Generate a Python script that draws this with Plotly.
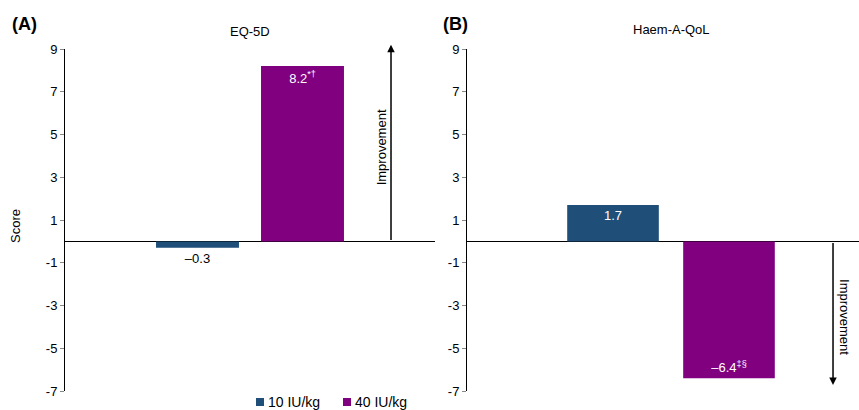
import plotly.graph_objects as go

# Doses compared in both panels
doses = ["10 IU/kg", "40 IU/kg"]
dose_colors = ["#1F4E79", "#800080"]

# Mean change from baseline scores
eq5d_scores = [-0.3, 8.2]
eq5d_marks = ["", "*†"]
haem_scores = [1.7, -6.4]
haem_marks = ["", "‡§"]

# Y-axis ticks shared by both panels
tick_vals = [-7, -5, -3, -1, 1, 3, 5, 7, 9]
tick_text = [str(v) for v in tick_vals]

panel_titles = ["EQ-5D", "Haem-A-QoL"]
panel_letters = ["(A)", "(B)"]

W, H = 859, 410
FONT = "Liberation Sans, Arial, sans-serif"


def label(v, mark):
    txt = f"{v:.1f}".replace("-", "–")
    if mark:
        txt += f"<sup>{mark}</sup>"
    return txt


fig = go.Figure()

panels = [
    dict(scores=eq5d_scores, marks=eq5d_marks, xa="x", ya="y"),
    dict(scores=haem_scores, marks=haem_marks, xa="x2", ya="y2"),
]

for p in panels:
    for i, (dose, col) in enumerate(zip(doses, dose_colors)):
        v = p["scores"][i]
        small = abs(v) < 1
        fig.add_trace(go.Bar(
            x=[i], y=[v], width=0.79,
            name=dose, showlegend=False,
            marker=dict(color=col, line=dict(width=0)),
            text=[label(v, p["marks"][i])],
            textposition="outside" if small else "inside",
            insidetextanchor="end",
            textangle=0,
            cliponaxis=False,
            textfont=dict(color="black" if small else "white", size=13, family=FONT),
            xaxis=p["xa"], yaxis=p["ya"],
        ))

ydom = [1 - 391 / H, 1 - 49 / H]
yaxis_common = dict(
    range=[-7, 9], tickvals=tick_vals, ticktext=tick_text,
    showline=True, linecolor="black", linewidth=1,
    ticks="outside", ticklen=4, tickcolor="#888", tickwidth=1,
    showgrid=False, zeroline=True, zerolinecolor="black", zerolinewidth=1.3,
    tickfont=dict(size=13, color="black", family=FONT),
    domain=ydom, fixedrange=True,
)
xaxis_common = dict(showline=False, showgrid=False, zeroline=False,
                    showticklabels=False, ticks="", fixedrange=True)

fig.update_layout(
    width=W, height=H,
    margin=dict(l=0, r=0, t=0, b=0, autoexpand=False),
    plot_bgcolor="white", paper_bgcolor="white",
    font=dict(family=FONT, color="black", size=12),
    barmode="overlay",
    showlegend=False,
    xaxis=dict(xaxis_common, domain=[65 / W, 435 / W], range=[-1.262, 2.262]),
    yaxis=dict(yaxis_common, anchor="x"),
    xaxis2=dict(xaxis_common, domain=[467 / W, 1.0], range=[-1.259, 2.121]),
    yaxis2=dict(yaxis_common, anchor="x2"),
)

annotations = []
shapes = []


def paper_text(text, px, py, size, angle=0, xanchor="center"):
    annotations.append(dict(text=text, x=px / W, y=1 - py / H, xref="paper", yref="paper",
                            xanchor=xanchor, yanchor="middle", textangle=angle,
                            showarrow=False, font=dict(size=size)))


# Panel titles and letters
paper_text(panel_titles[0], 250, 32, 13)
paper_text(panel_titles[1], 671, 30, 13)
paper_text(f"<b>{panel_letters[0]}</b>", 10, 24, 18, xanchor="left")
paper_text(f"<b>{panel_letters[1]}</b>", 441, 24, 18, xanchor="left")
# Y-axis title
paper_text("Score", 15, 226, 13, angle=-90)

# Direction-of-improvement arrows
annotations.append(dict(x=1.843, y=9.2, ax=1.843, ay=0, xref="x", yref="y", axref="x", ayref="y",
                        text="", showarrow=True, arrowhead=2, arrowsize=1, arrowwidth=1.5,
                        arrowcolor="black"))
annotations.append(dict(text="Improvement", x=1.748, y=4.4, xref="x", yref="y",
                        xanchor="center", yanchor="middle",
                        textangle=-90, showarrow=False, font=dict(size=13)))
annotations.append(dict(x=1.897, y=-6.72, ax=1.897, ay=0, xref="x2", yref="y2", axref="x2", ayref="y2",
                        text="", showarrow=True, arrowhead=2, arrowsize=1, arrowwidth=1.5,
                        arrowcolor="black"))
annotations.append(dict(text="Improvement", x=1.99, y=-3.53, xref="x2", yref="y2",
                        xanchor="center", yanchor="middle",
                        textangle=90, showarrow=False, font=dict(size=13)))

# Legend: small colour squares followed by dose labels
legend_x = [256, 343]
legend_yc = 402
for lx, dose, col in zip(legend_x, doses, dose_colors):
    shapes.append(dict(type="rect", xref="paper", yref="paper",
                       x0=lx / W, x1=(lx + 8) / W,
                       y0=1 - (legend_yc + 4) / H, y1=1 - (legend_yc - 4) / H,
                       fillcolor=col, line=dict(width=0)))
    paper_text(dose, lx + 10, legend_yc, 14, xanchor="left")

fig.update_layout(annotations=annotations, shapes=shapes)

fig.write_html("out.html")
